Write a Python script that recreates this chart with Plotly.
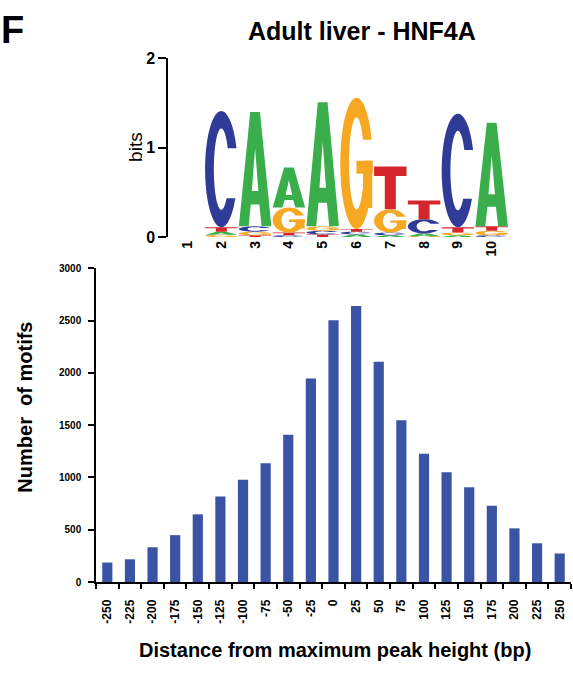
import numpy as np
import plotly.graph_objects as go

# ---------------- data ----------------
# Bar chart: motif counts vs distance from peak summit
distance_labels = ["-250", "-225", "-200", "-175", "-150", "-125", "-100", "-75", "-50", "-25",
                   "0", "25", "50", "75", "100", "125", "150", "175", "200", "225", "250"]
motif_counts = [187, 218, 333, 449, 648, 819, 978, 1137, 1408, 1947,
                2502, 2639, 2106, 1548, 1227, 1050, 907, 729, 514, 371, 274]
count_ticks = [0, 500, 1000, 1500, 2000, 2500, 3000]

# Sequence logo: information content (bits) per letter per position
logo_positions = [1, 2, 3, 4, 5, 6, 7, 8, 9, 10]
bits_A = [0.0, 0.035, 1.28, 0.45, 1.39, 0.03, 0.02, 0.03, 0.02, 1.16]
bits_C = [0.0, 1.30, 0.06, 0.02, 0.04, 0.03, 0.03, 0.16, 1.27, 0.02]
bits_G = [0.0, 0.025, 0.04, 0.28, 0.05, 1.47, 0.26, 0.01, 0.03, 0.05]
bits_T = [0.0, 0.05, 0.02, 0.03, 0.03, 0.03, 0.48, 0.21, 0.06, 0.05]
bits_ticks = [0, 1, 2]

# ---------------- style ----------------
W, H = 573, 673
FONT = "Liberation Sans, Arial, Helvetica, sans-serif"
BAR_COLOR = "#3A53A4"
LETTER_COLORS = {"A": "#3AAE4A", "C": "#2F3B96", "G": "#F6A823", "T": "#D5262C"}


def px_x(p):
    return p / W


def px_y(p):
    return 1 - p / H


def ring(y_top, y_bot, rxi, ryi, n=70):
    """Open ellipse ring (C-like) in unit box, cut horizontally at y_top and y_bot on the right."""
    ao0 = np.degrees(np.arcsin((y_top - 0.5) / 0.5))
    ao1 = 360 + np.degrees(np.arcsin((y_bot - 0.5) / 0.5))
    ai0 = np.degrees(np.arcsin(np.clip((y_top - 0.5) / ryi, -1, 1)))
    ai1 = 360 + np.degrees(np.arcsin(np.clip((y_bot - 0.5) / ryi, -1, 1)))
    to = np.radians(np.linspace(ao0, ao1, n))
    ti = np.radians(np.linspace(ai1, ai0, n))
    outer = [(0.5 + 0.5 * np.cos(a), 0.5 + 0.5 * np.sin(a)) for a in to]
    inner = [(0.5 + rxi * np.cos(a), 0.5 + ryi * np.sin(a)) for a in ti]
    return outer + inner


GLYPHS = {
    "A": [[[(0, 0), (0.35, 1), (0.65, 1), (1, 0), (0.7, 0), (0.63, 0.19), (0.37, 0.19), (0.3, 0)],
           [(0.4, 0.31), (0.6, 0.31), (0.5, 0.68)]]],
    "C": [[ring(0.68, 0.25, 0.23, 0.35)]],
    "G": [[ring(0.68, 0.30, 0.23, 0.35)],
          [[(0.5, 0.42), (1.0, 0.42), (1.0, 0.52), (0.5, 0.52)]],
          [[(0.7, 0.16), (0.985, 0.16), (0.985, 0.52), (0.7, 0.52)]]],
    "T": [[[(0, 1), (1, 1), (1, 0.78), (0.67, 0.78), (0.67, 0), (0.33, 0), (0.33, 0.78), (0, 0.78)]]],
}


def glyph_shapes(letter, xc, y0, h, w=0.96):
    shapes = []
    for sub_list in GLYPHS[letter]:
        d = ""
        for poly in sub_list:
            pts = [(xc - w / 2 + u * w, y0 + v * h) for (u, v) in poly]
            d += "M" + " L".join(f"{x:.4f},{y:.5f}" for x, y in pts) + " Z "
        shapes.append(dict(type="path", path=d.strip(), xref="x2", yref="y2",
                           fillcolor=LETTER_COLORS[letter], line=dict(width=0),
                           layer="above"))
    return shapes


fig = go.Figure()

# ---------------- bar chart ----------------
fig.add_trace(go.Bar(x=distance_labels, y=motif_counts, marker=dict(color=BAR_COLOR, line=dict(width=0)),
                     xaxis="x", yaxis="y", showlegend=False))

# invisible trace to anchor logo axes
fig.add_trace(go.Scatter(x=logo_positions, y=[0] * len(logo_positions), mode="markers",
                         marker=dict(opacity=0), xaxis="x2", yaxis="y2", showlegend=False,
                         hoverinfo="skip"))

shapes = []
for i, pos in enumerate(logo_positions):
    stack = [("A", bits_A[i]), ("C", bits_C[i]), ("G", bits_G[i]), ("T", bits_T[i])]
    stack.sort(key=lambda s: s[1])
    base = 0.0
    for letter, h in stack:
        if h > 0:
            shapes += glyph_shapes(letter, pos, base, h)
        base += h

fig.update_layout(
    width=W, height=H,
    margin=dict(l=0, r=0, t=0, b=0),
    paper_bgcolor="white", plot_bgcolor="white",
    bargap=0.55,
    shapes=shapes,
    xaxis=dict(domain=[px_x(96), px_x(571)], type="category", range=[-0.5, 20.5],
               showline=True, linecolor="black", linewidth=1.5, showgrid=False,
               ticks="outside", tickson="boundaries", ticklen=5, tickwidth=1.5, tickcolor="black",
               tickangle=-90, tickfont=dict(family=FONT, size=12, color="black", weight="bold"),
               ticklabelstandoff=11, anchor="y"),
    yaxis=dict(domain=[px_y(589), px_y(267)], range=[0, 3000], tickvals=count_ticks,
               showline=True, linecolor="black", linewidth=1.5, showgrid=False, zeroline=False,
               ticks="outside", ticklen=6, tickwidth=1.5, tickcolor="black",
               ticklabelstandoff=5,
               tickfont=dict(family=FONT, size=10, color="black", weight="bold"), anchor="x"),
    xaxis2=dict(domain=[px_x(168), px_x(508.6)], range=[0.423, 10.5], tickvals=logo_positions,
                showline=False, showgrid=False, zeroline=False, ticks="", tickangle=-90,
                tickfont=dict(family=FONT, size=14, color="black", weight="bold"), anchor="y2"),
    yaxis2=dict(domain=[px_y(235), px_y(51.7)], range=[0, 2], tickvals=bits_ticks,
                showline=True, linecolor="black", linewidth=1.5, showgrid=False, zeroline=False,
                ticks="outside", ticklen=8, tickwidth=1.5, tickcolor="black",
                tickfont=dict(family=FONT, size=16, color="black", weight="bold"), anchor="x2"),
    annotations=[
        dict(text="F", x=0, y=1, xref="paper", yref="paper", xanchor="left", yanchor="top",
             showarrow=False, borderpad=0,
             font=dict(family=FONT, size=38, color="black", weight="bold")),
        dict(text="Adult liver - HNF4A", x=px_x(362), y=px_y(23.5), xref="paper", yref="paper",
             xanchor="center", yanchor="middle", showarrow=False,
             font=dict(family=FONT, size=25, color="black", weight="bold")),
        dict(text="bits", x=px_x(135.5), y=px_y(143), xref="paper", yref="paper", textangle=-90,
             xanchor="center", yanchor="middle", showarrow=False,
             font=dict(family=FONT, size=19, color="black")),
        dict(text="Number\u00a0 of motifs", x=px_x(25), y=px_y(410), xref="paper", yref="paper",
             textangle=-90, xanchor="center", yanchor="middle", showarrow=False,
             font=dict(family=FONT, size=20, color="black", weight="bold")),
        dict(text="Distance from maximum peak height (bp)", x=px_x(335), y=px_y(659), xref="paper",
             yref="paper", xanchor="center", yanchor="middle", showarrow=False,
             font=dict(family=FONT, size=20, color="black", weight="bold")),
    ],
)

fig.write_html("out.html")
